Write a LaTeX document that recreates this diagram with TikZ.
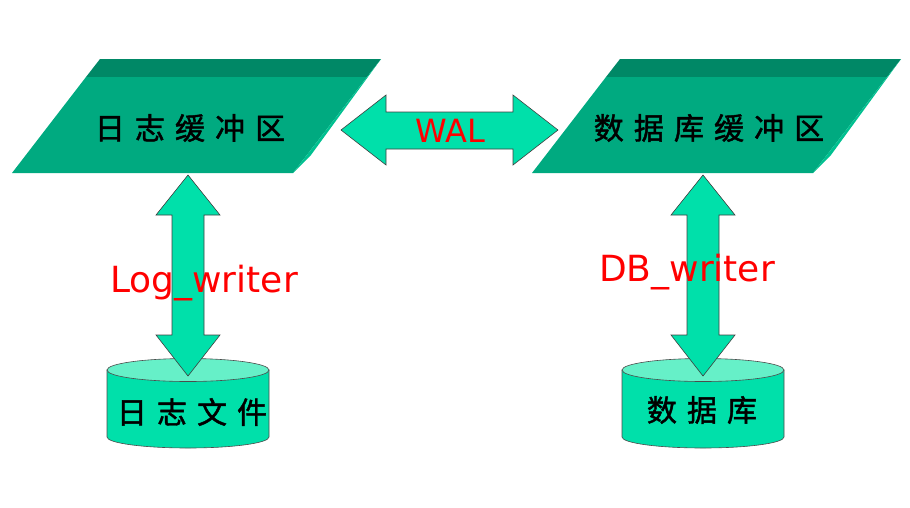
\documentclass[tikz,border=0pt]{standalone}
\usepackage{fontspec}
\setmainfont{DejaVu Sans}
\newfontfamily\cjk[WordSpace=1.5, FakeBold=1.5]{Noto Sans CJK SC}
\usetikzlibrary{positioning}

\definecolor{slabdark}{HTML}{008866}
\definecolor{slabmid}{HTML}{00AA80}
\definecolor{slabside}{HTML}{00C090}
\definecolor{arrowgreen}{HTML}{00E0AA}
\definecolor{cyltop}{HTML}{66F0C8}

\begin{document}
\begin{tikzpicture}[x=1pt, y=-1pt,
    blockarrow/.style={fill=arrowgreen, draw=black!75, line width=0.6pt},
    cylbody/.style={fill=arrowgreen, draw=black!70, line width=0.6pt},
    cjktext/.style={font=\cjk\fontsize{30}{36}\selectfont},
    redtext/.style={text=red, font=\fontsize{36}{40}\selectfont}]

  \useasboundingbox (0,0) rectangle (910,507);

  % buffers
  \foreach \dx in {0,520} {
    \fill[slabdark] (100+\dx,59) -- (381+\dx,59) -- (367+\dx,77) -- (86+\dx,77) -- cycle;
    \fill[slabmid] (86+\dx,77) -- (367+\dx,77) -- (293+\dx,173) -- (12+\dx,173) -- cycle;
    \fill[slabside] (381+\dx,59) -- (311+\dx,155) -- (293+\dx,173) -- (367+\dx,77) -- cycle;
  }
  \node[cjktext] (logbuf) at (190,128) {日 志 缓 冲 区};
  \node[cjktext] (dbbuf) at (709,128) {数 据 库 缓 冲 区};

  % WAL
  \draw[blockarrow] (341,130) -- (386,95) -- (386,112) -- (513,112) -- (513,95)
    -- (558,130) -- (513,165) -- (513,149) -- (386,149) -- (386,165) -- cycle;
  \node[redtext, font=\fontsize{32}{36}\selectfont] (wal) at (450,131) {WAL};

  % files
  \foreach \cx in {188,703} {
    \draw[cylbody] (\cx-81,370) -- (\cx-81,437)
      arc[start angle=180, end angle=360, x radius=81pt, y radius=11pt]
      -- (\cx+81,370) -- cycle;
    \draw[cylbody, fill=cyltop] (\cx,370) ellipse [x radius=81pt, y radius=11.5pt];
  }
  \node[cjktext] (logfile) at (192,412) {日 志 文 件};
  \node[cjktext] (dbfile) at (702,410) {数 据 库};

  % writers
  \foreach \ax in {188,703}
    \draw[blockarrow] (\ax,175) -- (\ax+32,215) -- (\ax+16,215) -- (\ax+16,335)
      -- (\ax+32,335) -- (\ax,376) -- (\ax-32,335) -- (\ax-16,335)
      -- (\ax-16,215) -- (\ax-32,215) -- cycle;
  \node[redtext] (logw) at (204,283) {Log\_writer};
  \node[redtext] (dbw) at (687,272) {DB\_writer};
\end{tikzpicture}
\end{document}
